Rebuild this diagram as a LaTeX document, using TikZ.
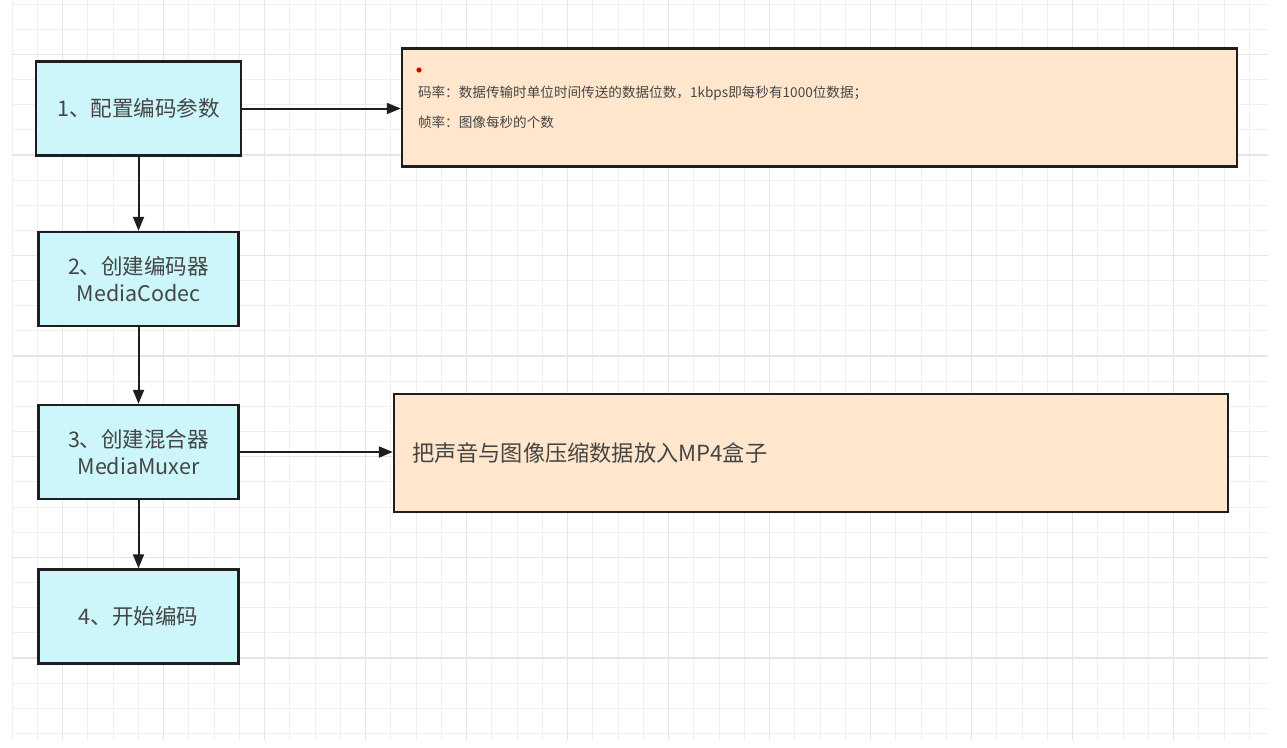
\documentclass[tikz,border=0pt]{standalone}
\usepackage{fontspec}
\setmainfont{Noto Sans CJK SC}
\usetikzlibrary{arrows.meta}
\definecolor{cyanfill}{HTML}{CCF6FA}
\definecolor{peachfill}{HTML}{FFE6CC}
\definecolor{txtgray}{HTML}{454545}
\definecolor{edge}{HTML}{1E1E1E}
\definecolor{gridminor}{HTML}{EFEFEF}
\definecolor{gridmajor}{HTML}{E5E5E5}
\tikzset{
  stepbox/.style={draw=edge, line width=2.4pt, fill=cyanfill, minimum width=200pt, minimum height=94pt,
    inner sep=0pt, align=center, text=txtgray, font=\fontsize{21.5}{27}\selectfont},
  notebox/.style={draw=edge, line width=2.4pt, fill=peachfill, minimum height=118pt,
    inner ysep=0pt, align=left, text=txtgray},
  flow/.style={draw=edge, line width=2pt, -{Triangle[length=14pt,width=11pt]}},
  minorgrid/.style={draw=gridminor, line width=1pt},
  majorgrid/.style={draw=gridmajor, line width=1.3pt},
}
\begin{document}
\begin{tikzpicture}[x=1pt,y=-1pt]
\useasboundingbox[fill=white] (0,0) rectangle (1287,747);
% grid
\foreach \k in {0,...,49} { \draw[minorgrid] ({12+25.25*\k},0) -- ({12+25.25*\k},740); }
\foreach \k in {0,...,29} { \draw[minorgrid] (12,{4+25.15*\k}) -- (1268,{4+25.15*\k}); }
\foreach \k in {2,6,...,46} { \draw[majorgrid] ({12+25.25*\k},0) -- ({12+25.25*\k},740); }
\foreach \k in {2,6,...,26} { \draw[majorgrid] (12,{4+25.15*\k}) -- (1268,{4+25.15*\k}); }
% step boxes
\node[stepbox, minimum width=205pt] (s1) at (138.5,108.5) {1、配置编码参数};
\node[stepbox] (s2) at (138.5,279) {2、创建编码器\\MediaCodec};
\node[stepbox] (s3) at (138.5,452) {3、创建混合器\\MediaMuxer};
\node[stepbox] (s4) at (138.5,616.5) {4、开始编码};
% note boxes
\node[notebox, minimum width=835pt, text width=803pt, inner xsep=16pt,
  font=\fontsize{13.6}{30}\selectfont] (n1) at (819.5,107.5)
  {码率：数据传输时单位时间传送的数据位数，1kbps即每秒有1000位数据；\\帧率：图像每秒的个数};
\node[notebox, minimum width=834pt, text width=798pt, inner xsep=18pt,
  font=\fontsize{22.2}{26}\selectfont] (n2) at (811,453)
  {把声音与图像压缩数据放入MP4盒子};
\fill[red!85!black] (419,70) circle (2.6pt);
% connectors
\draw[flow] (s1.east) -- (s1.east -| n1.west);
\draw[flow] (s3.east) -- (s3.east -| n2.west);
\draw[flow] (s1.south) -- (s2.north);
\draw[flow] (s2.south) -- (s3.north);
\draw[flow] (s3.south) -- (s4.north);
\end{tikzpicture}
\end{document}
